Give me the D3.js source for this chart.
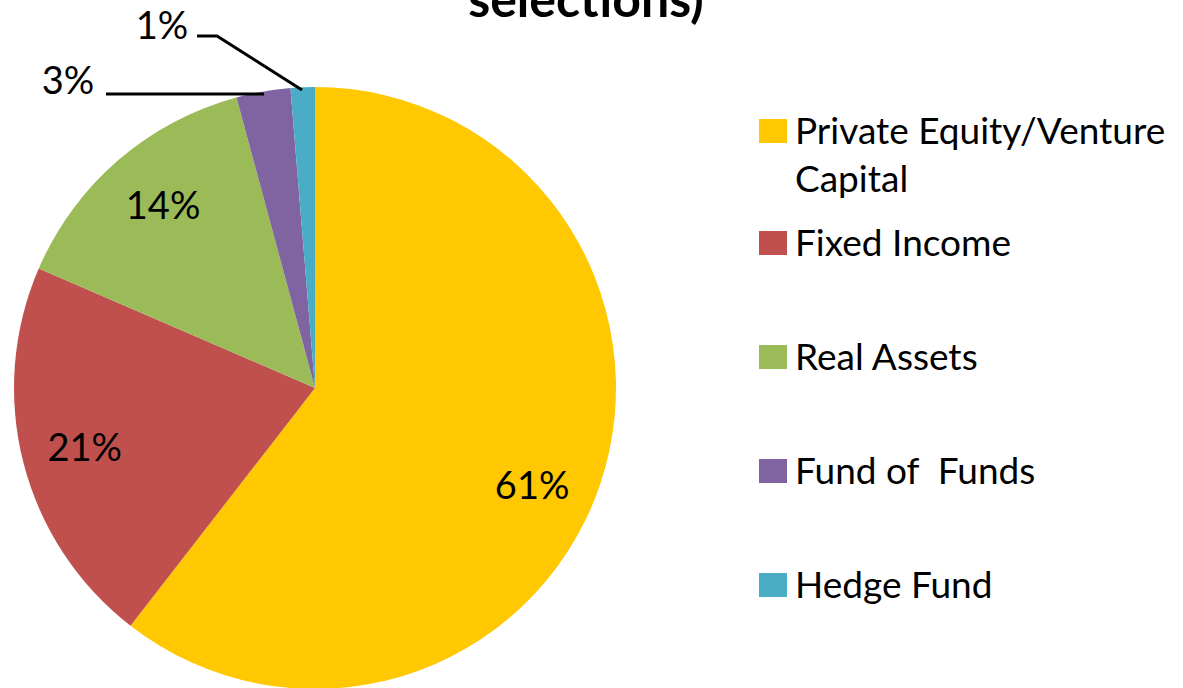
<!DOCTYPE html>
<html>
<head>
<meta charset="utf-8">
<script src="https://cdn.jsdelivr.net/npm/d3@7"></script>
<style>
  html, body { margin: 0; padding: 0; background: #fff; }
  svg { display: block; font-family: Lato, "Open Sans", sans-serif; }
</style>
</head>
<body>
<div id="container"></div>
<script>
// chart data
var categories = ["Private Equity/Venture Capital", "Fixed Income", "Real Assets", "Fund of Funds", "Hedge Fund"];
var legendLines = [["Private Equity/Venture", "Capital"], ["Fixed Income"], ["Real Assets"], ["Fund of  Funds"], ["Hedge Fund"]];
var shares = [60.5, 21.0, 14.3, 2.9, 1.3];
var pctLabels = ["61%", "21%", "14%", "3%", "1%"];
var colors = ["#FFC800", "#C0504D", "#9BBB59", "#8064A2", "#4BACC6"];

var w = 1183, h = 688;

var svg = d3.select("div#container")
  .append("svg")
  .attr("width", w)
  .attr("height", h);

// title (only the tail end is visible)
svg.append("text")
  .attr("x", 586)
  .attr("y", 17)
  .attr("text-anchor", "middle")
  .attr("font-weight", "bold")
  .attr("font-size", 50)
  .text("selections)");

var cx = 315, cy = 388, r = 301;

var data = categories.map(function(c, i) {
  return { name: c, value: shares[i], label: pctLabels[i], color: colors[i] };
});

var pie = d3.pie()
  .sort(null)
  .value(function(d) { return d.value; });

var arc = d3.arc().innerRadius(0).outerRadius(r);

var arcs = pie(data);

var g = svg.append("g").attr("transform", "translate(" + cx + "," + cy + ")");

g.selectAll("path.slice")
  .data(arcs)
  .enter().append("path")
  .attr("class", "slice")
  .attr("d", arc)
  .attr("fill", function(d) { return d.data.color; });

// labels inside for the big slices (small nudge in angle like excel's best fit)
var inside = [0, 1, 2];
var nudge = [0.09, 0, 0.02];
g.selectAll("text.inlabel")
  .data(arcs.filter(function(d, i) { return inside.indexOf(i) >= 0; }))
  .enter().append("text")
  .attr("class", "inlabel")
  .attr("transform", function(d, i) {
    var a = (d.startAngle + d.endAngle) / 2 + nudge[i];
    var rr = r * 0.79;
    return "translate(" + (Math.sin(a) * rr) + "," + (-Math.cos(a) * rr) + ")";
  })
  .attr("text-anchor", "middle")
  .attr("dy", "0.36em")
  .attr("font-size", 38)
  .attr("fill", "#000")
  .text(function(d) { return d.data.label; });

// outside labels with leader lines for the small slices
var outer = [
  { i: 3, tx: 68, ty: 80, pts: [[106, 94], [264, 94]] },
  { i: 4, tx: 162, ty: 25, pts: [[197, 36], [217, 36], [302, 90]] }
];
outer.forEach(function(o) {
  svg.append("path")
    .attr("d", d3.line()(o.pts))
    .attr("fill", "none")
    .attr("stroke", "#000")
    .attr("stroke-width", 3);
  svg.append("text")
    .attr("x", o.tx)
    .attr("y", o.ty)
    .attr("text-anchor", "middle")
    .attr("dy", "0.36em")
    .attr("font-size", 38)
    .text(arcs[o.i].data.label);
});

// legend
var legendY = [131, 243, 357, 471, 585];
var legend = svg.append("g").attr("class", "legend");
var item = legend.selectAll("g")
  .data(data)
  .enter().append("g")
  .attr("transform", function(d, i) { return "translate(759," + legendY[i] + ")"; });

item.append("rect")
  .attr("x", 0)
  .attr("y", -12)
  .attr("width", 28)
  .attr("height", 24)
  .attr("fill", function(d) { return d.color; });

item.append("text")
  .attr("x", 36)
  .attr("y", 0)
  .attr("font-size", 37)
  .attr("fill", "#000")
  .selectAll("tspan")
  .data(function(d, i) { return legendLines[i]; })
  .enter().append("tspan")
  .attr("x", 36)
  .attr("dy", function(d, j) { return j === 0 ? "0.36em" : "1.3em"; })
  .style("white-space", "pre")
  .text(function(d) { return d; });
</script>
</body>
</html>
